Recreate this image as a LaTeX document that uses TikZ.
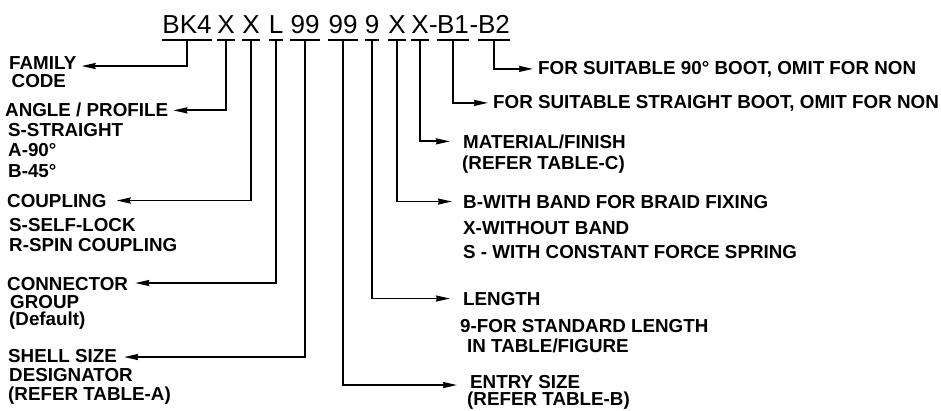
\documentclass[tikz,border=0pt]{standalone}
\usepackage{fontspec}
\setmainfont{Liberation Sans}
\usetikzlibrary{arrows.meta}
\begin{document}
\begin{tikzpicture}[x=1pt,y=-1pt,
  seg/.style={font=\fontsize{26}{30}\selectfont, anchor=base, inner sep=0pt},
  lbl/.style={font=\fontsize{18.8}{20}\selectfont\bfseries, anchor=base west, inner sep=0pt},
  bar/.style={line width=1.3pt},
  conn/.style={line width=1.8pt, -{Stealth[length=14pt,width=6pt,inset=1pt]}}]
\useasboundingbox (0,0) rectangle (941,410);
% code segments
\node[seg] (bk4) at (187,33) {BK4};
\node[seg] (x1) at (226,33) {X};
\node[seg] (x2) at (251,33) {X};
\node[seg] (l) at (276,33) {L};
\node[seg] (n1) at (305,33) {99};
\node[seg] (n2) at (343,33) {99};
\node[seg] (n3) at (372,33) {9};
\node[seg] (x3) at (397,33) {X};
\node[seg] (x4) at (420,33) {X};
\node[seg] (d1) at (433.5,33) {-};
\node[seg] (b1) at (453,33) {B1};
\node[seg] (d2) at (474,33) {-};
\node[seg] (b2) at (494,33) {B2};
\foreach \s in {bk4,x1,x2,l,n1,n2,n3,x3,x4,b1,b2}
  \draw[bar] (\s.west |- 0,40) -- (\s.east |- 0,40);
% left labels
\node[lbl] (fam1) at (9,69.5) {FAMILY};
\node[lbl] (fam2) at (11.5,87.5) {CODE};
\node[lbl] (ang1) at (5,116) {ANGLE / PROFILE};
\node[lbl] (ang2) at (8,136.5) {S-STRAIGHT};
\node[lbl] (ang3) at (8,156) {A-90°};
\node[lbl] (ang4) at (8,177) {B-45°};
\node[lbl] (cpl1) at (7,207) {COUPLING};
\node[lbl] (cpl2) at (9,231) {S-SELF-LOCK};
\node[lbl] (cpl3) at (9,251) {R-SPIN COUPLING};
\node[lbl] (con1) at (7,290.5) {CONNECTOR};
\node[lbl] (con2) at (10,308.5) {GROUP};
\node[lbl] (con3) at (9,325.5) {(Default)};
\node[lbl] (shl1) at (8,362) {SHELL SIZE};
\node[lbl] (shl2) at (9,381.5) {DESIGNATOR};
\node[lbl] (shl3) at (8,400) {(REFER TABLE-A)};
% right labels
\node[lbl] (bt2) at (538,74) {FOR SUITABLE 90° BOOT, OMIT FOR NON};
\node[lbl] (bt1) at (493,108) {FOR SUITABLE STRAIGHT BOOT, OMIT FOR NON};
\node[lbl] (mat1) at (463,148) {MATERIAL/FINISH};
\node[lbl] (mat2) at (462,169) {(REFER TABLE-C)};
\node[lbl] (bnd1) at (463,208) {B-WITH BAND FOR BRAID FIXING};
\node[lbl] (bnd2) at (463,234) {X-WITHOUT BAND};
\node[lbl] (bnd3) at (463,258) {S - WITH CONSTANT FORCE SPRING};
\node[lbl] (len1) at (463,305) {LENGTH};
\node[lbl] (len2) at (460,332) {9-FOR STANDARD LENGTH};
\node[lbl] (len3) at (467,352) {IN TABLE/FIGURE};
\node[lbl] (ent1) at (470,388.5) {ENTRY SIZE};
\node[lbl] (ent2) at (467,405.5) {(REFER TABLE-B)};
% connectors
\draw[conn] (bk4 |- 0,40) |- ([shift={(5pt,-3pt)}]fam1.east);
\draw[conn] (x1 |- 0,40) |- ([shift={(5pt,-1pt)}]ang1.east);
\draw[conn] (x2 |- 0,40) |- ([shift={(10pt,0pt)}]cpl1.east);
\draw[conn] (l |- 0,40) |- ([shift={(7pt,1pt)}]con1.east);
\draw[conn] (n1 |- 0,40) |- ([shift={(7pt,-1.5pt)}]shl1.east);
\draw[conn] (n2 |- 0,40) |- ([shift={(-13pt,-3pt)}]ent1.west);
\draw[conn] (n3 |- 0,40) |- ([shift={(-13pt,0pt)}]len1.west);
\draw[conn] (x3 |- 0,40) |- ([shift={(-11pt,0pt)}]bnd1.west);
\draw[conn] (x4 |- 0,40) |- ([shift={(-13pt,0pt)}]mat1.west);
\draw[conn] (b1 |- 0,40) |- ([shift={(-5pt,0pt)}]bt1.west);
\draw[conn] (b2 |- 0,40) |- ([shift={(-5pt,0pt)}]bt2.west);
\end{tikzpicture}
\end{document}
